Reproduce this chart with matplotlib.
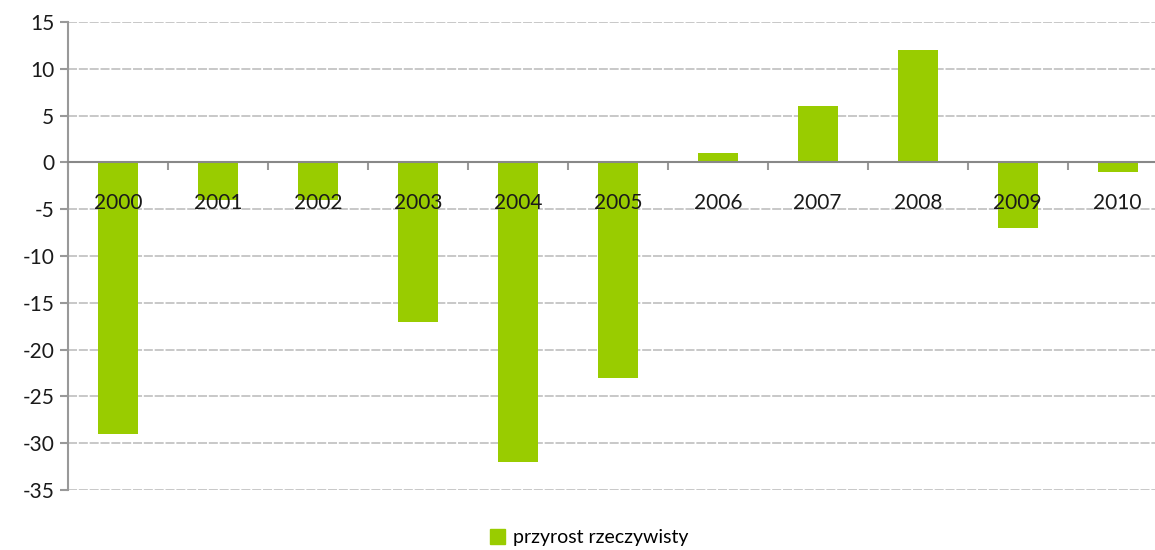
import numpy as np
import matplotlib.pyplot as plt
from matplotlib.patches import Patch

years = ['2000', '2001', '2002', '2003', '2004', '2005', '2006', '2007', '2008', '2009', '2010']
przyrost = [-29, -4, -4, -17, -32, -23, 1, 6, 12, -7, -1]
yticks = [15, 10, 5, 0, -5, -10, -15, -20, -25, -30, -35]

green = '#99cc00'
plt.rcParams['font.family'] = ['Lato', 'DejaVu Sans']

fig = plt.figure(figsize=(11.55, 5.5), dpi=100)
# axis runs a bit past the right edge, like the original crop
ax = fig.add_axes([0.0589, 0.109, 0.952, 0.851])

x = np.arange(len(years))
ax.bar(x, przyrost, width=0.4, color=green, zorder=1)

# grid lines drawn by hand so they stay under the bars
for v in yticks:
    if v != 0:
        ax.axhline(v, color='#c4c4c4', lw=1.3, ls=(0, (5, 1)), zorder=0)

ax.set_xlim(-0.5, 10.5)
ax.set_ylim(-35, 15)
ax.set_yticks(yticks)
ax.set_yticklabels([str(v) for v in yticks], fontsize=15, color='#1a1a1a')

ax.spines['top'].set_visible(False)
ax.spines['right'].set_visible(False)
ax.spines['left'].set_color('#999999')
ax.spines['left'].set_linewidth(1.5)
ax.spines['bottom'].set_position(('data', 0))
ax.spines['bottom'].set_color('#888888')
ax.spines['bottom'].set_linewidth(1.5)

ax.set_xticks(x)
ax.set_xticklabels(years, fontsize=15, color='#1a1a1a')
ax.set_xticks(np.arange(-0.5, 10.6, 1), minor=True)
ax.tick_params(axis='x', which='major', length=0, pad=22)
ax.tick_params(axis='x', which='minor', length=6, width=1.5, color='#999999', direction='out')
ax.tick_params(axis='y', length=6, width=1.5, color='#999999', direction='out', pad=4)

fig.legend(handles=[Patch(color=green, label='przyrost rzeczywisty')],
           loc='lower center', bbox_to_anchor=(0.51, -0.025), frameon=False,
           fontsize=14, handlelength=0.8, handleheight=0.8, handletextpad=0.4)

fig.savefig('out.png', dpi=100)
